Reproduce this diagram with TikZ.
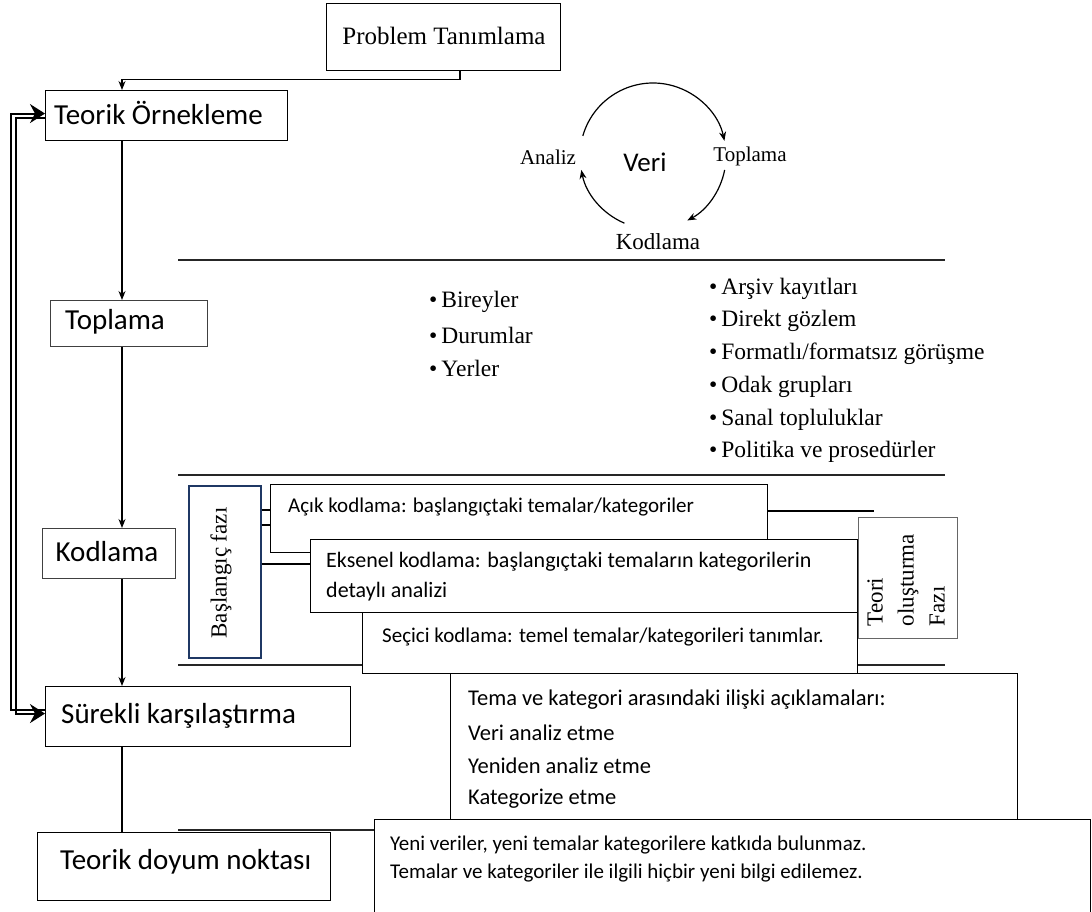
\documentclass[tikz,border=0pt]{standalone}
\usepackage{fontspec}
\setmainfont{Liberation Serif}
\newfontfamily\carl{Carlito}
\usetikzlibrary{arrows.meta}
\newcommand\fsz[2]{\fontsize{#1}{#2}\selectfont}
\definecolor{navy}{HTML}{1F3864}
\tikzset{
  box/.style={draw=black, line width=1.1pt, fill=white, inner sep=0pt, anchor=north west},
  txt/.style={inner sep=0pt},
  arr/.style={line width=1.1pt, -{Stealth[length=9pt,width=7pt]}},
  dline/.style={line width=1.8pt, draw=black!85},
  stub/.style={line width=1.2pt},
  bigarr/.style={line width=2pt, -{Stealth[length=15pt,width=19pt,inset=5pt]}},
  cyc/.style={line width=1.2pt, -{Stealth[length=9pt,width=7pt]}},
  ser/.style={font=\fsz{23.5}{27}},
  sans/.style={font=\carl\fsz{21}{25}},
  sansb/.style={font=\carl\fsz{22.5}{26}},
  big/.style={font=\carl\fsz{29}{34}}
}
\begin{document}
\begin{tikzpicture}[x=1pt,y=1pt]
\useasboundingbox (0,0) rectangle (1092,-911);
\clip (0,0) rectangle (1092,-911);
\fill[white] (0,0) rectangle (1092,-911);

% divider lines
\coordinate (d1a) at (178,-260); \coordinate (d1b) at (945,-260);
\coordinate (d2a) at (178,-475); \coordinate (d2b) at (945,-475);
\coordinate (d3a) at (178,-665); \coordinate (d3b) at (945,-665);
\coordinate (d4a) at (178,-830);
\draw[dline] (d1a) -- (d1b);
\draw[dline] (d2a) -- (d2b);
\draw[dline] (d3a) -- (d3b);

% left column boxes
\node[box, minimum width=234pt, minimum height=67pt] (prob) at (326,-3) {};
\node[box, minimum width=242pt, minimum height=50pt] (teo) at (45,-90) {};
\node[box, draw=black!75, minimum width=157pt, minimum height=46pt] (top) at (50,-300) {};
\node[box, draw=black!75, minimum width=133pt, minimum height=50pt] (kod) at (42,-528) {};
\node[box, minimum width=305pt, minimum height=60pt] (sur) at (45,-686) {};
\node[box, minimum width=293pt, minimum height=68pt] (doy) at (37,-832) {};

\node[txt, font=\fsz{25}{29}] (probt) at (444,-36) {Problem Tanımlama};
\node[txt, big, anchor=west] (teot) at (54,-113) {Teorik Örnekleme};
\node[txt, big, anchor=west] (topt) at (65,-322) {Toplama};
\node[txt, big] (kodt) at (107,-552) {Kodlama};
\node[txt, big, anchor=west] (surt) at (61,-716) {Sürekli karşılaştırma};
\node[txt, big, anchor=west] (doyt) at (60,-862) {Teorik doyum noktası};

% main flow
\coordinate (cx) at (122,0);
\coordinate (px) at (460,0);
\draw[arr] (prob.south -| px) -- ++(0,-8) -| (teo.north -| cx);
\draw[arr] (teo.south -| cx) -- (top.north -| cx);
\draw[arr] (top.south -| cx) -- (kod.north -| cx);
\draw[arr] (kod.south -| cx) -- (sur.north -| cx);
\draw[line width=1.1pt] (sur.south -| cx) -- (doy.north -| cx);

% left feedback loop
\coordinate (la) at (11,0);
\coordinate (lb) at (16,0);
\draw[bigarr] ([yshift=7pt]sur.west) -| ([yshift=2pt]teo.west -| la) -- ([yshift=2pt]teo.west);
\draw[bigarr] ([yshift=-2pt]teo.west) -| ([yshift=3pt]sur.west -| lb) -- ([yshift=3pt]sur.west);

% data cycle
\coordinate (vc) at (653,-156);
\draw[cyc] (vc) ++(164:73) arc[start angle=164, end angle=12, radius=73];
\draw[cyc] (vc) ++(-11:73) arc[start angle=-11, end angle=-62, radius=73];
\draw[cyc] (vc) ++(-113:73) arc[start angle=-113, end angle=-169, radius=73];
\node[txt, font=\fsz{21}{24}] (analiz) at (548,-157) {Analiz};
\node[txt, font=\carl\fsz{27}{30}] (veri) at (645,-162) {Veri};
\node[txt, font=\fsz{21}{24}] (toplc) at (750,-156) {Toplama};
\node[txt, font=\fsz{23}{26}] (kodc) at (658,-242) {Kodlama};

% bullet lists
\node[txt, ser, anchor=west] (b1) at (429,-302) {•\hspace{4pt}Bireyler};
\node[txt, ser, anchor=west] (b2) at (429,-335) {•\hspace{4pt}Durumlar};
\node[txt, ser, anchor=west] (b3) at (429,-368) {•\hspace{4pt}Yerler};
\node[txt, ser, anchor=west] (c1) at (709,-289) {•\hspace{4pt}Arşiv kayıtları};
\node[txt, ser, anchor=west] (c2) at (709,-321) {•\hspace{4pt}Direkt gözlem};
\node[txt, ser, anchor=west] (c3) at (709,-354) {•\hspace{4pt}Formatlı/formatsız görüşme};
\node[txt, ser, anchor=west] (c4) at (709,-387) {•\hspace{4pt}Odak grupları};
\node[txt, ser, anchor=west] (c5) at (709,-420) {•\hspace{4pt}Sanal topluluklar};
\node[txt, ser, anchor=west] (c6) at (709,-452) {•\hspace{4pt}Politika ve prosedürler};

% coding phase boxes
\node[box, draw=navy, line width=1.6pt, minimum width=72pt, minimum height=172pt] (bas) at (188,-485) {};
\node[txt, font=\fsz{23}{26}, rotate=90] (bast) at (221,-573) {Başlangıç fazı};
\coordinate (s1) at (874,-511);
\node[box, minimum width=497pt, minimum height=68pt] (acik) at (270,-484) {};
\draw[stub] (acik.east |- s1) -- (s1);
\node[box, minimum width=547pt, minimum height=73pt] (eks) at (310,-539) {};
\node[box, minimum width=495pt, minimum height=61pt] (sec) at (362,-612) {};
\node[box, draw=black!60, line width=1.3pt, minimum width=99pt, minimum height=121pt] (teori) at (858,-517) {};
\node[txt, font=\fsz{23}{31}, rotate=90, align=left] (teorit) at (906,-580) {Teori\\oluşturma\\Fazı};

\coordinate (y1) at (0,-510);
\coordinate (y2) at (0,-525);
\coordinate (y3) at (0,-564);
\draw[stub] (bas.east |- y1) -- (acik.west |- y1);
\draw[stub] (bas.east |- y2) -- (acik.west |- y2);
\draw[stub] (bas.east |- y3) -- (eks.west |- y3);

\node[txt, sans, anchor=west] (acikt) at (288,-507) {Açık kodlama: başlangıçtaki temalar/kategoriler};
\node[txt, font=\carl\fsz{22}{26}, anchor=west] (ekst1) at (326,-562) {Eksenel kodlama: başlangıçtaki temaların kategorilerin};
\node[txt, font=\carl\fsz{22}{26}, anchor=west] (ekst2) at (326,-592) {detaylı analizi};
\node[txt, sans, anchor=west] (sect) at (382,-637) {Seçici kodlama: temel temalar/kategorileri tanımlar.};

% bottom boxes
\node[box, minimum width=567pt, minimum height=146pt] (tema) at (450,-673) {};
\node[txt, sansb, anchor=west] (tm1) at (468,-700) {Tema ve kategori arasındaki ilişki açıklamaları:};
\node[txt, sansb, anchor=west] (tm2) at (468,-733) {Veri analiz etme};
\node[txt, sansb, anchor=west] (tm3) at (468,-766) {Yeniden analiz etme};
\node[txt, sansb, anchor=west] (tm4) at (468,-799) {Kategorize etme};
\node[box, minimum width=716pt, minimum height=100pt] (yeni) at (374,-819) {};
\draw[dline] (d4a) -- (yeni.west |- d4a);
\node[txt, sans, anchor=west] (yn1) at (390,-845) {Yeni veriler, yeni temalar kategorilere katkıda bulunmaz.};
\node[txt, sans, anchor=west] (yn2) at (390,-873) {Temalar ve kategoriler ile ilgili hiçbir yeni bilgi edilemez.};
\end{tikzpicture}
\end{document}
